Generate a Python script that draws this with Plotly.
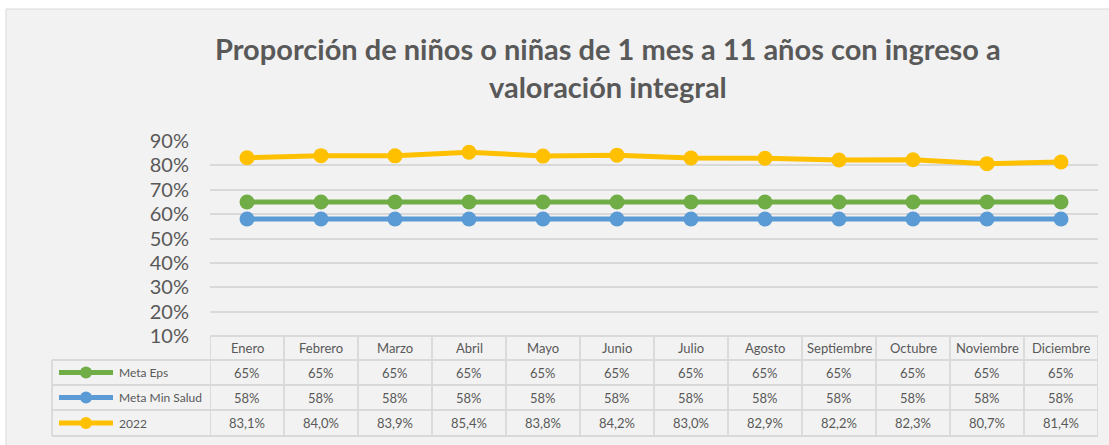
import plotly.graph_objects as go

W, H = 1109, 445

months = ["Enero", "Febrero", "Marzo", "Abril", "Mayo", "Junio", "Julio",
          "Agosto", "Septiembre", "Octubre", "Noviembre", "Diciembre"]
series_names = ["Meta Eps", "Meta Min Salud", "2022"]
meta_eps = [0.65] * 12
meta_min_salud = [0.58] * 12
y2022 = [0.831, 0.840, 0.839, 0.854, 0.838, 0.842, 0.830, 0.829, 0.822, 0.823, 0.807, 0.814]
y_ticks = [0.1, 0.2, 0.3, 0.4, 0.5, 0.6, 0.7, 0.8, 0.9]
title_text = "Proporción de niños o niñas de 1 mes a 11 años con ingreso a<br>valoración integral"

colors = ["#70AD47", "#5B9BD5", "#FFC000"]
decimals = [0, 0, 1]
all_values = [meta_eps, meta_min_salud, y2022]


def px(x):
    return x / W


def py(y):
    return 1 - y / H


PLOT_L, PLOT_R = 210, 1098
PLOT_T, PLOT_B = 141, 336
ROW_Y = [336, 360, 385, 410, 436]
LEG_L = 52
TXT = "#595959"
GRID = "#D9D9D9"
FONT = "Lato"

fig = go.Figure()
x_idx = list(range(len(months)))
for name, vals, col in zip(series_names, all_values, colors):
    fig.add_trace(go.Scatter(
        x=x_idx, y=vals, name=name, mode="lines+markers",
        line=dict(color=col, width=5),
        marker=dict(color=col, size=15),
        cliponaxis=False, showlegend=False, hoverinfo="skip",
    ))

shapes = []
annotations = []

# background panel
shapes.append(dict(type="rect", xref="paper", yref="paper",
                   x0=px(6), x1=px(1112), y0=py(448), y1=py(9),
                   fillcolor="#F2F2F2", line=dict(color="#D9D9D9", width=1), layer="below"))

# table lines
lw = 1.8
shapes.append(dict(type="line", xref="x", yref="paper", x0=-0.5, x1=len(months) - 0.5,
                   y0=py(ROW_Y[0]), y1=py(ROW_Y[0]), line=dict(color=GRID, width=lw)))
for yy in ROW_Y[1:]:
    shapes.append(dict(type="line", xref="paper", yref="paper", x0=px(LEG_L), x1=px(PLOT_R),
                       y0=py(yy), y1=py(yy), line=dict(color=GRID, width=lw)))
shapes.append(dict(type="line", xref="paper", yref="paper", x0=px(LEG_L), x1=px(LEG_L),
                   y0=py(ROW_Y[1]), y1=py(ROW_Y[-1]), line=dict(color=GRID, width=lw)))
for k in range(len(months) + 1):
    shapes.append(dict(type="line", xref="x", yref="paper", x0=k - 0.5, x1=k - 0.5,
                       y0=py(ROW_Y[0]), y1=py(ROW_Y[-1]), line=dict(color=GRID, width=lw)))

# header text
for k, m in enumerate(months):
    annotations.append(dict(x=k, y=py((ROW_Y[0] + ROW_Y[1]) / 2), xref="x", yref="paper",
                            text=m, showarrow=False, xanchor="center", yanchor="middle",
                            font=dict(family=FONT, size=13, color=TXT)))

# data rows
for r, (name, vals, col, dec) in enumerate(zip(series_names, all_values, colors, decimals)):
    yc = (ROW_Y[r + 1] + ROW_Y[r + 2]) / 2
    # legend key
    shapes.append(dict(type="line", xref="paper", yref="paper", x0=px(59), x1=px(113),
                       y0=py(yc), y1=py(yc), line=dict(color=col, width=5)))
    shapes.append(dict(type="circle", xref="paper", yref="paper", x0=px(86 - 6), x1=px(86 + 6),
                       y0=py(yc + 6), y1=py(yc - 6), fillcolor=col, line=dict(color=col, width=0)))
    annotations.append(dict(x=px(117), y=py(yc), xref="paper", yref="paper", text=name,
                            xanchor="left", yanchor="middle", showarrow=False,
                            font=dict(family=FONT, size=12, color=TXT)))
    for k, v in enumerate(vals):
        s = f"{v * 100:.{dec}f}%".replace(".", ",")
        annotations.append(dict(x=k, y=py(yc), xref="x", yref="paper", text=s, showarrow=False,
                                xanchor="center", yanchor="middle",
                                font=dict(family=FONT, size=13, color=TXT)))

# title
annotations.append(dict(x=px(608), y=py(68), xref="paper", yref="paper", text="<b>" + title_text + "</b>",
                        showarrow=False, xanchor="center", yanchor="middle", align="center",
                        font=dict(family=FONT, size=29, color=TXT)))

fig.update_layout(
    width=W, height=H, autosize=False,
    margin=dict(l=0, r=0, t=0, b=0, pad=0),
    paper_bgcolor="white", plot_bgcolor="rgba(0,0,0,0)",
    shapes=shapes, annotations=annotations, hovermode=False,
    xaxis=dict(domain=[px(PLOT_L), px(PLOT_R)], range=[-0.5, len(months) - 0.5],
               showticklabels=False, showgrid=False, zeroline=False, showline=False, ticks="",
               automargin=False),
    yaxis=dict(domain=[py(PLOT_B), py(PLOT_T)], range=[0.1, 0.9], tickvals=y_ticks,
               tickformat=".0%", showgrid=True, gridcolor=GRID, gridwidth=2,
               zeroline=False, showline=False, ticks="outside", ticklen=16,
               tickcolor="rgba(0,0,0,0)", automargin=False,
               tickfont=dict(family=FONT, size=20, color=TXT)),
)

fig.write_html(
    "out.html",
    config={"displayModeBar": False},
    post_script="document.body.style.margin='0';document.body.style.padding='0';"
                "document.documentElement.style.overflow='hidden';",
)
